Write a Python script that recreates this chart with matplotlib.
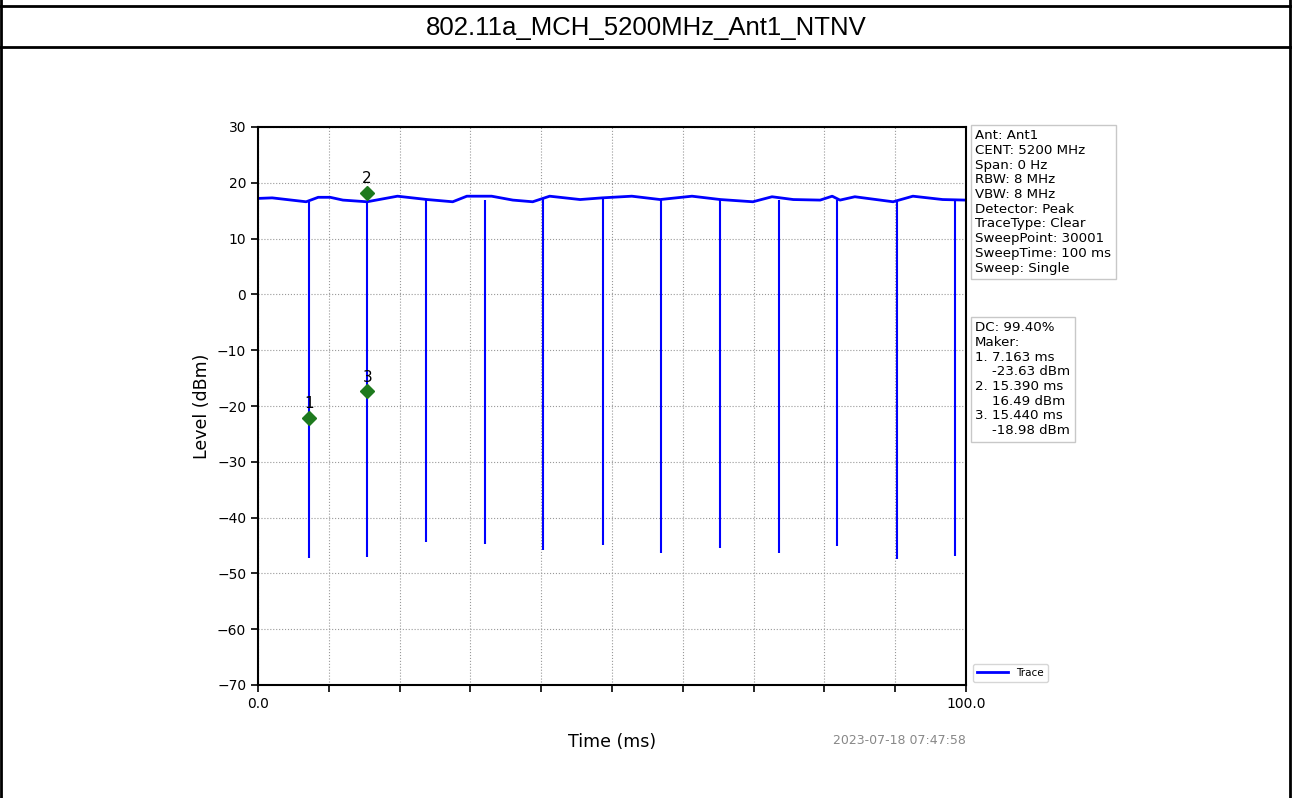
"""Zero-span sweep plot: 802.11a MCH 5200 MHz, Ant1, NTNV."""

import matplotlib
matplotlib.use("Agg")
import matplotlib.pyplot as plt  # noqa: E402
from matplotlib.lines import Line2D  # noqa: E402

TITLE = "802.11a_MCH_5200MHz_Ant1_NTNV"
STAMP = "2023-07-18 07:47:58"

# baseline of the trace (time ms, level dBm)
base_t = [0.0, 2.0, 6.8, 8.5, 10.2, 12.0, 15.4, 19.7, 23.9, 27.5, 29.5, 33.0,
          36.0, 38.8, 41.2, 45.5, 48.6, 52.8, 56.8, 61.3, 65.3, 69.9, 72.6,
          75.6, 79.4, 81.1, 82.2, 84.3, 89.7, 92.5, 96.7, 100.0]
base_lvl = [17.2, 17.3, 16.6, 17.4, 17.4, 16.9, 16.6, 17.6, 17.0, 16.6, 17.6,
            17.6, 16.9, 16.6, 17.6, 17.0, 17.3, 17.6, 17.0, 17.6, 17.0, 16.6,
            17.5, 17.0, 16.9, 17.6, 16.9, 17.5, 16.6, 17.6, 17.0, 16.9]

# off-time gaps (dips) of the burst train
spike_t = [7.16, 15.44, 23.7, 32.1, 40.3, 48.7, 56.9, 65.3, 73.6, 81.8, 90.2, 98.4]
spike_top = [16.6, 16.6, 17.0, 16.9, 17.2, 17.3, 17.0, 17.0, 16.9, 16.9, 16.7, 17.0]
spike_bot = [-47.2, -47.0, -44.4, -44.7, -45.8, -44.9, -46.3, -45.5, -46.3,
             -45.1, -47.5, -46.8]

marker_t = [7.163, 15.390, 15.440]
marker_lvl = [-22.2, 18.2, -17.4]
marker_lbl = ["1", "2", "3"]

settings = ["Ant: Ant1", "CENT: 5200 MHz", "Span: 0 Hz", "RBW: 8 MHz",
            "VBW: 8 MHz", "Detector: Peak", "TraceType: Clear",
            "SweepPoint: 30001", "SweepTime: 100 ms", "Sweep: Single"]
readout = ["DC: 99.40%", "Maker:", "1. 7.163 ms", "    -23.63 dBm",
           "2. 15.390 ms", "    16.49 dBm", "3. 15.440 ms", "    -18.98 dBm"]

W, H = 1292, 798
fig = plt.figure(figsize=(W / 100, H / 100), dpi=100)

# table frame around the chart
for x0, y0, x1, y1 in [(0, 6, W, 6), (0, 47, W, 47), (1, 0, 1, H), (W - 2, 0, W - 2, H)]:
    fig.add_artist(Line2D([x0 / W, x1 / W], [1 - y0 / H, 1 - y1 / H],
                          color="black", lw=2, transform=fig.transFigure))
fig.text(0.5, 1 - 28 / H, TITLE, ha="center", va="center",
         family="Liberation Sans", fontsize=18.5)

ax = fig.add_axes([258 / W, 1 - 685 / H, (966 - 258) / W, (685 - 127) / H])
ax.plot(base_t, base_lvl, color="blue", lw=2.0, label="Trace")
ax.vlines(spike_t, spike_bot, spike_top, color="blue", lw=1.5)
ax.plot(marker_t, marker_lvl, "D", color="#1e7a1e", ms=7, zorder=4)
for t, v, s in zip(marker_t, marker_lvl, marker_lbl):
    ax.annotate(s, (t, v), xytext=(0, 5), textcoords="offset points",
                ha="center", va="bottom", fontsize=11)

ax.set_xlim(0, 100)
ax.set_ylim(-70, 30)
ax.set_xticks(range(0, 101, 10))
ax.set_xticklabels(["0.0"] + [""] * 9 + ["100.0"])
ax.set_yticks(range(-70, 31, 10))
ax.tick_params(labelsize=10, length=5, width=1.2)
for sp in ax.spines.values():
    sp.set_linewidth(1.5)
ax.grid(True, linestyle=":", color="#999999", lw=0.8)
ax.set_xlabel("Time (ms)", fontsize=12.5, labelpad=16)
ax.set_ylabel("Level (dBm)", fontsize=12.5)

box = dict(boxstyle="square,pad=0.35", fc="white", ec="#c8c8c8", lw=1)
ax.text(1.013, 0.996, "\n".join(settings), transform=ax.transAxes,
        va="top", ha="left", fontsize=9.6, linespacing=1.17, bbox=box)
ax.text(1.013, 0.652, "\n".join(readout), transform=ax.transAxes,
        va="top", ha="left", fontsize=9.6, linespacing=1.17, bbox=box)
ax.legend(loc="lower left", bbox_to_anchor=(1.005, 0.0), fontsize=7.5,
          handlelength=3, borderaxespad=0.3)
ax.text(1.0, -0.10, STAMP, transform=ax.transAxes, ha="right", va="center",
        fontsize=9, color="#888888")

fig.savefig("out.png", dpi=100)
